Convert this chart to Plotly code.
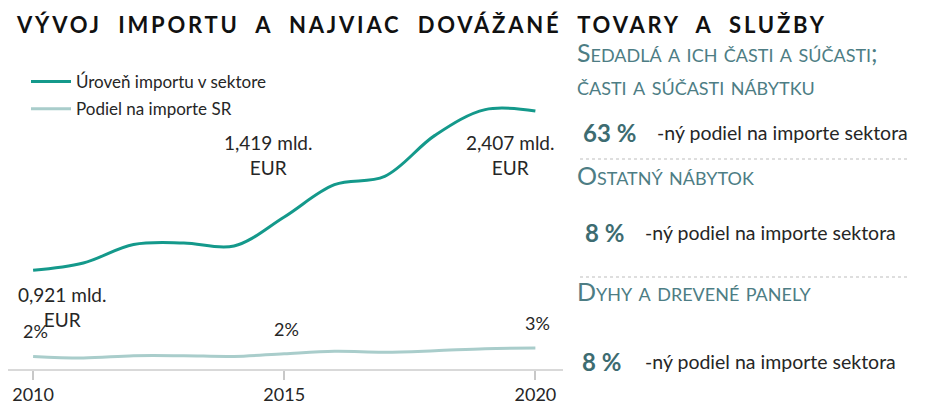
import plotly.graph_objects as go

# ---------------- data ----------------
years = [2010, 2011, 2012, 2013, 2014, 2015, 2016, 2017, 2018, 2019, 2020]
import_level = [0.921, 0.989, 1.161, 1.176, 1.148, 1.419, 1.720, 1.798, 2.180, 2.420, 2.407]  # mld. EUR
share_pct = [2.0, 1.75, 2.1, 2.1, 2.0, 2.43, 2.8, 2.67, 2.9, 3.22, 3.33]  # % of SR imports
label_years = [2010, 2015, 2020]
tick_years = [2010, 2015, 2020]

series_names = ["Úroveň importu v sektore", "Podiel na importe SR"]

products = ["Sedadlá a ich časti a súčasti;<br>časti a súčasti nábytku",
            "Ostatný nábytok",
            "Dyhy a drevené panely"]
product_shares = [63, 8, 8]
share_suffix = "-ný podiel na importe sektora"

title_text = "VÝVOJ  IMPORTU  A  NAJVIAC  DOVÁŽANÉ  TOVARY  A  SLUŽBY"

# ---------------- style ----------------
# the page body has an 8px margin, so the figure starts at (8, 8) of the window
OFF = 8
W, H = 942 - OFF, 405 - OFF
FONT = "Lato"
TEXT = "#262626"
TEAL = "#14998b"
LIGHT = "#a9cdcb"
HEAD = "#4d7d84"
PCT = "#3d6c71"


def px_x(x):
    return (x - OFF) / W


def px_y(y):
    return 1 - (y - OFF) / H


fig = go.Figure()
fig.add_trace(go.Scatter(
    x=years, y=import_level, mode="lines", name=series_names[0],
    line=dict(color=TEAL, width=3, shape="spline", smoothing=1.0),
    legendgroup="a", yaxis="y", hoverinfo="skip"))
fig.add_trace(go.Scatter(
    x=years, y=share_pct, mode="lines", name=series_names[1],
    line=dict(color=LIGHT, width=3, shape="spline", smoothing=1.0),
    legendgroup="b", yaxis="y2", hoverinfo="skip"))

annotations = []
# import level labels
imp_shift = {2010: (29, -37), 2015: (-16, 62), 2020: (-25, -44)}
for yr in label_years:
    v = import_level[years.index(yr)]
    txt = f"{v:.3f}".replace(".", ",") + " mld.<br>EUR"
    dx, dy = imp_shift[yr]
    annotations.append(dict(x=yr, y=v, xref="x", yref="y", text=txt, showarrow=False,
                            xshift=dx, yshift=dy, font=dict(family=FONT, size=19, color=TEXT)))
# share labels
for yr in label_years:
    v = share_pct[years.index(yr)]
    annotations.append(dict(x=yr, y=v, xref="x", yref="y2", text=f"{round(v)}%", showarrow=False,
                            xshift=2, yshift=25, font=dict(family=FONT, size=18, color=TEXT)))

# title
annotations.append(dict(x=px_x(14), y=px_y(24), xref="paper", yref="paper", xanchor="left", yanchor="middle",
                        text=f'<span style="letter-spacing:2.8px">{title_text}</span>', showarrow=False,
                        font=dict(family=FONT, size=22, color="#111111", weight="bold")))

# right panel
head_y = [68, 175, 291]
pct_y = [132, 232, 361]
pct_x = [581, 583, 580]
suf_x = [655, 643, 643]
for i, name in enumerate(products):
    annotations.append(dict(x=px_x(575), y=px_y(head_y[i]), xref="paper", yref="paper",
                            xanchor="left", yanchor="middle", align="left", text=name, showarrow=False,
                            font=dict(family=FONT, size=25, color=HEAD, variant="small-caps")))
    annotations.append(dict(x=px_x(pct_x[i]), y=px_y(pct_y[i]), xref="paper", yref="paper",
                            xanchor="left", yanchor="middle", text=f"{product_shares[i]} %", showarrow=False,
                            font=dict(family=FONT, size=24, color=PCT, weight="bold")))
    annotations.append(dict(x=px_x(suf_x[i]), y=px_y(pct_y[i]), xref="paper", yref="paper",
                            xanchor="left", yanchor="middle", text=share_suffix, showarrow=False,
                            font=dict(family=FONT, size=19.5, color=TEXT)))

shapes = []
for sy in [159, 277]:
    shapes.append(dict(type="line", xref="paper", yref="paper", x0=px_x(580), x1=px_x(908),
                       y0=px_y(sy), y1=px_y(sy), line=dict(color="#d4d4d4", width=1.5, dash="dot")))

ydom = [px_y(369), px_y(100)]
fig.update_layout(
    width=W, height=H, margin=dict(l=0, r=0, t=0, b=0),
    paper_bgcolor="white", plot_bgcolor="white",
    showlegend=True,
    legend=dict(x=px_x(26), y=px_y(64), xanchor="left", yanchor="top",
                font=dict(family=FONT, size=17, color=TEXT), tracegroupgap=2,
                bgcolor="rgba(0,0,0,0)", itemwidth=40),
    xaxis=dict(domain=[px_x(8), px_x(563)], range=[2009.5, 2020.55], tickvals=tick_years,
               ticks="outside", ticklen=9, tickcolor="#c8c8c8", tickwidth=1.5,
               showline=True, linecolor="#d9d9d9", linewidth=1.5, showgrid=False, zeroline=False,
               tickfont=dict(family=FONT, size=18, color=TEXT), anchor="y", fixedrange=True),
    xaxis2=dict(domain=[px_x(8), px_x(563)], range=[2009.5, 2020.55], tickvals=tick_years,
                ticks="inside", ticklen=12, tickcolor="#c8c8c8", tickwidth=1.5,
                showticklabels=False, showline=False, showgrid=False, zeroline=False,
                overlaying="x", anchor="y"),
    yaxis=dict(domain=ydom, range=[0, 2.51], visible=False, fixedrange=True),
    yaxis2=dict(range=[0, 42.7], overlaying="y", visible=False, fixedrange=True),
    annotations=annotations, shapes=shapes,
)

fig.write_html("out.html")
